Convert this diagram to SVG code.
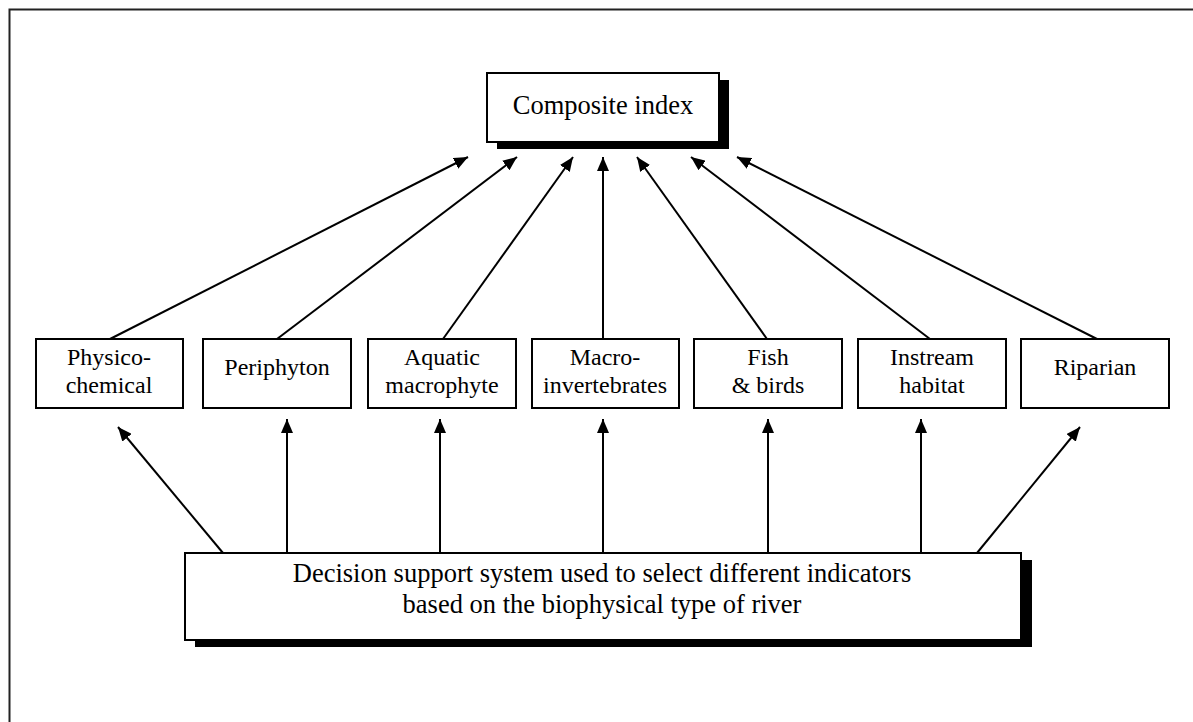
<svg xmlns="http://www.w3.org/2000/svg" width="1193" height="722" viewBox="0 0 1193 722">
<defs>
<style>
.box{fill:#fff;stroke:#000;stroke-width:2}
.shadow{fill:#000}
.t{font-family:"Liberation Serif","Times New Roman",serif;font-size:24px;fill:#000;text-anchor:middle}
.big{font-size:26.5px}
.c{stroke:#000;stroke-width:2;fill:none;marker-end:url(#ah)}
</style>
<marker id="ah" markerWidth="14" markerHeight="12" refX="14" refY="6" orient="auto" markerUnits="userSpaceOnUse">
<path d="M0,0 L14,6 L0,12 Z" fill="#000"/>
</marker>
</defs>
<rect width="1193" height="722" fill="#fff"/>
<path d="M9.5,722 V9.5 H1193" fill="none" stroke="#222" stroke-width="2"/>

<g id="connectors">
<line class="c" x1="110" y1="339" x2="468" y2="157"/>
<line class="c" x1="277" y1="339" x2="517" y2="157"/>
<line class="c" x1="443" y1="339" x2="573" y2="157"/>
<line class="c" x1="603" y1="339" x2="603" y2="157"/>
<line class="c" x1="767" y1="339" x2="637" y2="157"/>
<line class="c" x1="930" y1="339" x2="691" y2="157"/>
<line class="c" x1="1097" y1="339" x2="737" y2="157"/>

<line class="c" x1="223" y1="553" x2="118" y2="427"/>
<line class="c" x1="287" y1="553" x2="287" y2="419"/>
<line class="c" x1="440" y1="553" x2="440" y2="419"/>
<line class="c" x1="603" y1="553" x2="603" y2="419"/>
<line class="c" x1="768" y1="553" x2="768" y2="419"/>
<line class="c" x1="921" y1="553" x2="921" y2="419"/>
<line class="c" x1="977" y1="553" x2="1080" y2="427"/>
</g>

<g id="composite">
<rect class="shadow" x="497" y="80" width="232" height="69"/>
<rect class="box" x="487" y="73" width="232" height="69"/>
<text class="t big" x="603" y="114">Composite index</text>
</g>

<g id="physico">
<rect class="box" x="36" y="339" width="147" height="69"/>
<text class="t" x="109" y="365">Physico-</text>
<text class="t" x="109" y="393">chemical</text>
</g>
<g id="periphyton">
<rect class="box" x="203" y="339" width="148" height="69"/>
<text class="t" x="277" y="375">Periphyton</text>
</g>
<g id="aquatic">
<rect class="box" x="368" y="339" width="148" height="69"/>
<text class="t" x="442" y="365">Aquatic</text>
<text class="t" x="442" y="393">macrophyte</text>
</g>
<g id="macro">
<rect class="box" x="532" y="339" width="147" height="69"/>
<text class="t" x="605" y="365">Macro-</text>
<text class="t" x="605" y="393">invertebrates</text>
</g>
<g id="fish">
<rect class="box" x="694" y="339" width="148" height="69"/>
<text class="t" x="768" y="365">Fish</text>
<text class="t" x="768" y="393">&amp; birds</text>
</g>
<g id="instream">
<rect class="box" x="858" y="339" width="148" height="69"/>
<text class="t" x="932" y="365">Instream</text>
<text class="t" x="932" y="393">habitat</text>
</g>
<g id="riparian">
<rect class="box" x="1021" y="339" width="148" height="69"/>
<text class="t" x="1095" y="375">Riparian</text>
</g>

<g id="decision">
<rect class="shadow" x="195" y="560" width="837" height="87"/>
<rect class="box" x="185" y="553" width="836" height="87"/>
<text class="t big" x="602" y="582">Decision support system used to select different indicators</text>
<text class="t big" x="602" y="613">based on the biophysical type of river</text>
</g>
</svg>
